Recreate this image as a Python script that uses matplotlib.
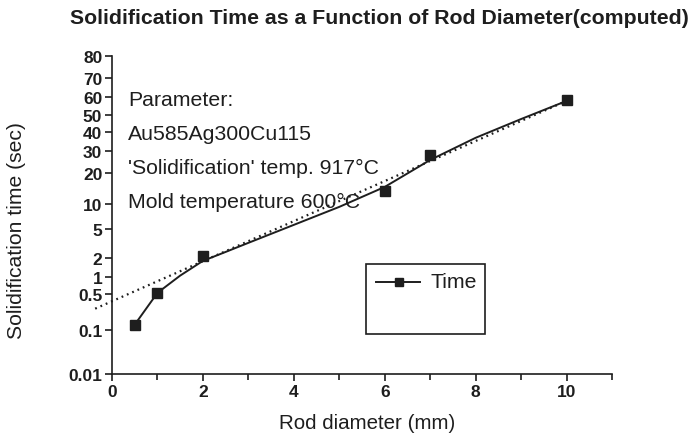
import numpy as np
import matplotlib
matplotlib.use("Agg")
import matplotlib.pyplot as plt
from matplotlib.patches import Rectangle
from matplotlib.lines import Line2D
from statistics import NormalDist
from math import erf, sqrt

plt.rcParams["font.family"] = ["Liberation Sans", "DejaVu Sans"]

# Computed solidification times
diameter = [0.5, 1, 2, 6, 7, 10]
time_sec = [0.13, 0.53, 2.15, 13.8, 28.2, 58.4]

# Smoothed curve through the computed values
curve_d = [0.5, 1.0, 1.5, 2.0, 2.5, 3.0, 4.0, 5.0, 6.0, 7.0, 8.0, 9.0, 10.0]
curve_t = [0.13, 0.53, 1.05, 1.8, 2.45, 3.3, 5.7, 9.3, 15.0, 25.8, 37.0, 47.5, 57.8]

# Dotted trend line end points
trend_d = [-0.37, 10.0]
trend_t = [0.27, 57.8]

yticks = [0.01, 0.1, 0.5, 1, 2, 5, 10, 20, 30, 40, 50, 60, 70, 80]
yticklabels = ["0.01", "0.1", "0.5", "1", "2", "5", "10", "20", "30", "40", "50", "60", "70", "80"]

# Normal probability axis (values in percent)
_nd = NormalDist()
_inv = np.vectorize(lambda p: _nd.inv_cdf(min(max(p, 1e-9), 1 - 1e-9)), otypes=[float])
_cdf = np.vectorize(lambda z: 0.5 * (1 + erf(z / sqrt(2))), otypes=[float])


def prob_fwd(v):
    return _inv(np.asarray(v, dtype=float) / 100.0)


def prob_inv(z):
    return 100.0 * _cdf(np.asarray(z, dtype=float))


ink = "#1e1e1e"

fig = plt.figure(figsize=(6.93, 4.39), dpi=100)
ax = fig.add_axes([0.1616, 0.1458, 0.7215, 0.7244])
ax.set_yscale("function", functions=(prob_fwd, prob_inv))
ax.set_xlim(0, 11)
ax.set_ylim(0.01, 80)

ax.plot(curve_d, curve_t, color=ink, lw=1.4)
ax.plot(diameter, time_sec, ls="none", marker="s", ms=6.8, color=ink)
ax.plot(trend_d, trend_t, color=ink, lw=1.6, ls=(0, (0.8, 1.8)), clip_on=False)

ax.set_xticks([0, 2, 4, 6, 8, 10])
ax.set_xticks([1, 3, 5, 7, 9, 11], minor=True)
ax.set_yticks(yticks)
ax.set_yticklabels(yticklabels)
ax.yaxis.set_minor_locator(matplotlib.ticker.NullLocator())

for s in ["top", "right"]:
    ax.spines[s].set_visible(False)
for s in ["left", "bottom"]:
    ax.spines[s].set_linewidth(1.2)
    ax.spines[s].set_color(ink)
ax.tick_params(which="major", length=5, width=1.2, color=ink, labelsize=12.5,
               labelcolor=ink, pad=2)
ax.tick_params(which="minor", length=4, width=1.2, color=ink)
for lab in ax.get_xticklabels() + ax.get_yticklabels():
    lab.set_fontweight("bold")

ax.set_xlabel("Rod diameter (mm)", fontsize=14.8, color=ink)
ax.xaxis.set_label_coords(0.51, -0.122)
ax.set_ylabel("Solidification time (sec)", fontsize=15.2, color=ink)
ax.yaxis.set_label_coords(-0.172, 0.455)
fig.text(0.547, 0.957, "Solidification Time as a Function of Rod Diameter(computed)",
         ha="center", va="center", fontsize=15.3, fontweight="bold", color=ink)

# Parameter notes
notes = ["Parameter:", "Au585Ag300Cu115", "'Solidification' temp. 917\u00b0C",
         "Mold temperature 600\u00b0C"]
for i, line in enumerate(notes):
    ax.text(0.032, 0.863 - i * 0.107, line, transform=ax.transAxes,
            fontsize=15.3, color=ink, va="center", ha="left")

# Legend box
ax.add_patch(Rectangle((0.508, 0.126), 0.238, 0.22, transform=ax.transAxes,
                       fill=False, lw=1.2, edgecolor=ink))
ax.add_line(Line2D([0.528, 0.616], [0.29, 0.29], transform=ax.transAxes,
                   color=ink, lw=1.4))
ax.add_line(Line2D([0.574], [0.29], transform=ax.transAxes, color=ink,
                   marker="s", ms=6))
ax.text(0.638, 0.29, "Time", transform=ax.transAxes, fontsize=15.3,
        color=ink, va="center", ha="left")

fig.savefig("out.png", dpi=100)
